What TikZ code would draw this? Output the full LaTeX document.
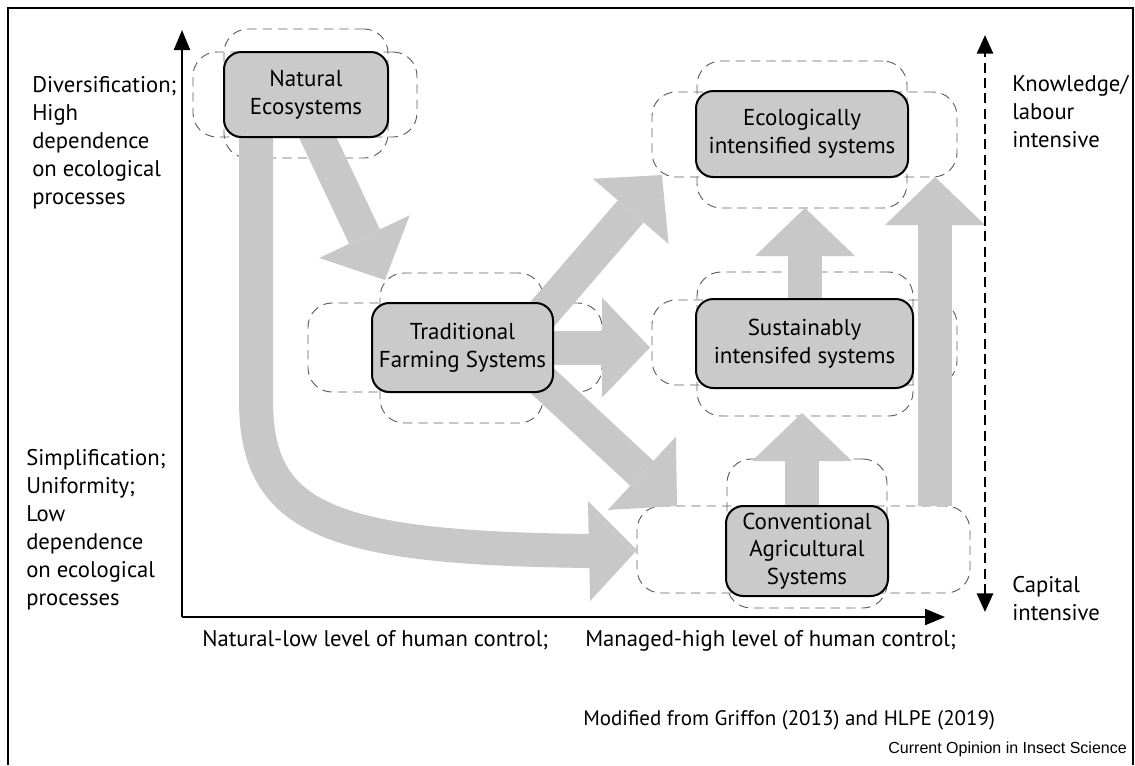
\documentclass[tikz,border=0pt]{standalone}
\usepackage{fontspec}
\setmainfont{PT Sans}
\newfontfamily\arialfont{Liberation Sans}
\usetikzlibrary{arrows.meta}
\definecolor{arrowgray}{RGB}{200,200,200}
\definecolor{boxgray}{RGB}{202,202,202}
\definecolor{dashgray}{RGB}{95,95,95}
\newcommand\mainfs{\fontsize{15.75}{20.6}\selectfont}
\newcommand\axfs{\fontsize{17}{21}\selectfont}
\newcommand\boxfs{\fontsize{17.25}{20.8}\selectfont}
\newcommand\lblfs{\fontsize{17}{21}\selectfont}
\tikzset{
  sysbox/.style={draw=black, line width=1.5pt, fill=boxgray, rounded corners=13pt, align=center, inner sep=0pt, font=\boxfs},
  dashbox/.style={draw=dashgray, line width=0.7pt, dash pattern=on 7pt off 4.5pt, rounded corners=18pt, inner sep=0pt},
  flow/.style={draw=arrowgray, line width=25.5pt, -{Triangle[length=36pt,width=75pt,line width=0pt]}},
  axisline/.style={line width=1.5pt, -{Triangle[length=15pt,width=12pt]}},
  dashaxis/.style={line width=2.1pt, dash pattern=on 7.5pt off 4pt, {Triangle[length=14pt,width=12pt]}-{Triangle[length=14pt,width=12pt]}},
  lbl/.style={inner sep=0pt, font=\lblfs, align=left},
  btxt/.style={inner sep=0pt, font=\mainfs},
  axtxt/.style={inner sep=0pt, font=\axfs},
}
\begin{document}
\begin{tikzpicture}[x=0.75pt,y=-0.75pt]
\useasboundingbox (0,0) rectangle (1135,765);
\draw[line width=0.8pt] (8,765) -- (8,8) -- (1133,8) -- (1133,765);

% dashed outlines
\node[dashbox, minimum width=168pt, minimum height=63.75pt] (natW) at (305,94.5) {};
\node[dashbox, minimum width=123pt, minimum height=96.75pt] (natT) at (306,93.5) {};
\node[dashbox, minimum width=220.5pt, minimum height=66.75pt] (tradW) at (455,347.5) {};
\node[dashbox, minimum width=122.25pt, minimum height=112.5pt] (tradT) at (461.5,348) {};
\node[dashbox, minimum width=228.75pt, minimum height=63.75pt] (ecoW) at (804.5,134.5) {};
\node[dashbox, minimum width=157.5pt, minimum height=110.25pt] (ecoT) at (802,134.5) {};
\node[dashbox, minimum width=228.75pt, minimum height=63.75pt] (susW) at (804.5,342.5) {};
\node[dashbox, minimum width=162pt, minimum height=108pt] (susT) at (805,344) {};
\node[dashbox, minimum width=249.75pt, minimum height=65.25pt] (convW) at (803.5,549.5) {};
\node[dashbox, minimum width=120pt, minimum height=111.75pt] (convT) at (807,533.5) {};

% flow arrows
\coordinate (n2tS) at (300,100);
\coordinate (n2tE) at (385,280);
\coordinate (n2cS) at (256,110);
\coordinate (n2cA) at (256,400);
\coordinate (n2cB) at (590,551);
\coordinate (n2cE) at (637,550);
\coordinate (t2eS) at (520,340);
\coordinate (t2eE) at (662,175);
\coordinate (t2sS) at (520,347.5);
\coordinate (t2sE) at (650,347.5);
\coordinate (t2cS) at (520,360);
\coordinate (t2cE) at (677,506);
\coordinate (s2eS) at (805,340);
\coordinate (s2eE) at (805,208);
\coordinate (c2sS) at (802,540);
\coordinate (c2sE) at (802,413);
\coordinate (bigS) at (935,506);
\coordinate (bigE) at (935,177);

\draw[flow] (n2tS) -- (n2tE);
\draw[flow] (n2cS) -- (n2cA) .. controls (256,520) and (330,548) .. (n2cB) -- (n2cE);
\draw[flow] (t2eS) -- (t2eE);
\draw[flow] (t2sS) -- (t2sE);
\draw[flow] (t2cS) -- (t2cE);
\draw[flow] (s2eS) -- (s2eE);
\draw[flow] (c2sS) -- (c2sE);
\draw[flow] (bigS) -- (bigE);

% system boxes
\node[sysbox, minimum width=123pt, minimum height=63.75pt] (nat) at (306,94.5) {Natural\\Ecosystems};
\node[sysbox, minimum width=135.75pt, minimum height=66.75pt] (trad) at (462.5,347.5) {Traditional\\Farming Systems};
\node[sysbox, minimum width=159pt, minimum height=64.5pt] (eco) at (802,134) {Ecologically\\intensified systems};
\node[sysbox, minimum width=162.75pt, minimum height=66.75pt] (sus) at (804.5,343.5) {Sustainably\\intensifed systems};
\node[sysbox, minimum width=121.5pt, minimum height=67.5pt] (conv) at (807,551) {Conventional\\Agricultural\\Systems};

% axes
\coordinate (O) at (182,617);
\coordinate (yTop) at (182,30);
\coordinate (xEnd) at (945,617);
\draw[axisline] (O) -- (yTop);
\draw[axisline] (O) -- (xEnd);
\coordinate (dBot) at (985,612);
\coordinate (dTop) at (985,35);
\draw[dashaxis] (dBot) -- (dTop);

% labels (base anchor = baseline of last line)
\node[lbl, anchor=base west] (divl) at (32,204) {Diversification;\\High\\dependence\\on ecological\\processes};
\node[lbl, anchor=base west] (siml) at (26,605) {Simplification;\\Uniformity;\\Low\\dependence\\on ecological\\processes};
\node[lbl, anchor=base west] (knol) at (1012,147) {Knowledge/\\labour\\intensive};
\node[lbl, anchor=base west] (capl) at (1012,620) {Capital\\intensive};
\node[axtxt, anchor=base west] (xlo) at (202,646) {Natural-low level of human control;};
\node[axtxt, anchor=base west] (xhi) at (585,646) {Managed-high level of human control;};
\node[btxt, anchor=base west] (src) at (583,725) {Modified from Griffon (2013) and HLPE (2019)};
\node[inner sep=0pt, anchor=base east, font=\arialfont\fontsize{12}{14}\selectfont] (jrnl) at (1127,753) {Current Opinion in Insect Science};
\end{tikzpicture}
\end{document}
